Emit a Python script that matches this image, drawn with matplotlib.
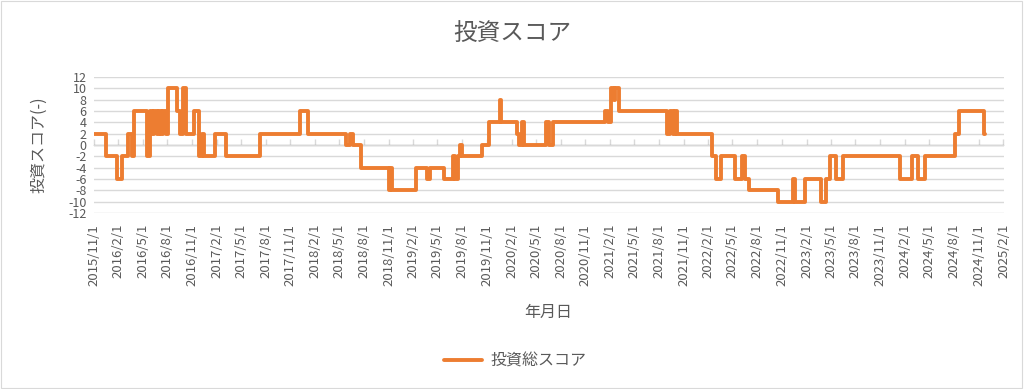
import matplotlib
matplotlib.use("Agg")
import matplotlib.pyplot as plt
import pandas as pd
from matplotlib.patches import Rectangle

plt.rcParams['font.family'] = ['Noto Sans CJK JP', 'DejaVu Sans']

# ---- data: change dates and score values (step series) ----
change_dates = [
    "2015-11-01", "2015-12-17", "2016-01-27", "2016-02-13", "2016-03-09",
    "2016-03-22", "2016-03-29", "2016-05-16", "2016-05-28", "2016-06-07",
    "2016-06-14", "2016-06-23", "2016-06-30", "2016-07-10", "2016-07-17",
    "2016-07-26", "2016-08-04", "2016-09-06", "2016-09-17", "2016-09-28",
    "2016-10-11", "2016-11-10", "2016-11-25", "2016-12-08", "2016-12-15",
    "2017-01-27", "2017-03-06", "2017-07-10", "2017-12-06", "2018-01-04",
    "2018-05-28", "2018-06-09", "2018-06-20", "2018-07-23", "2018-11-01",
    "2018-11-08", "2018-11-15", "2019-02-10", "2019-03-25", "2019-04-05",
    "2019-05-27", "2019-06-28", "2019-07-05", "2019-07-18", "2019-07-25",
    "2019-08-02", "2019-10-14", "2019-11-09", "2019-12-18", "2019-12-25",
    "2020-02-20", "2020-03-01", "2020-03-10", "2020-03-19", "2020-06-08",
    "2020-06-19", "2020-07-02", "2021-01-12", "2021-01-25", "2021-02-04",
    "2021-02-15", "2021-02-20", "2021-03-04", "2021-09-01", "2021-09-12",
    "2021-09-23", "2021-09-30", "2021-10-09", "2022-02-14", "2022-02-28",
    "2022-03-21", "2022-05-10", "2022-06-07", "2022-06-18", "2022-07-01",
    "2022-10-17", "2022-12-12", "2022-12-21", "2023-01-26", "2023-03-26",
    "2023-04-14", "2023-04-27", "2023-05-21", "2023-06-16", "2024-01-15",
    "2024-02-29", "2024-03-21", "2024-04-15", "2024-08-04", "2024-08-19",
    "2024-11-19", "2024-11-26",
]
scores = [
    2, -2, -6, -2, 2,
    -2, 6, -2, 6, 2,
    6, 2, 6, 2, 6,
    2, 10, 6, 2, 10,
    2, 6, -2, 2, -2,
    2, -2, 2, 6, 2,
    0, 2, 0, -4, -8,
    -4, -8, -4, -6, -4,
    -6, -2, -6, -2, 0,
    -2, 0, 4, 8, 4,
    2, 0, 4, 0, 4,
    0, 4, 6, 4, 10,
    8, 10, 6, 2, 6,
    2, 6, 2, -2, -6,
    -2, -6, -2, -6, -8,
    -10, -6, -10, -6, -10,
    -6, -2, -6, -2, -6,
    -2, -6, -2, 2, 6,
    2, 2,
]
series_name = "投資総スコア"
title = "投資スコア"
y_label = "投資スコア(-)"
x_label = "年月日"
y_ticks = [-12, -10, -8, -6, -4, -2, 0, 2, 4, 6, 8, 10, 12]
x_start, x_end = "2015-11-01", "2025-02-01"

dates = pd.to_datetime(change_dates)
tick_dates = pd.date_range(x_start, x_end, freq="3MS")
tick_labels = [f"{d.year}/{d.month}/{d.day}" for d in tick_dates]

gray = "#595959"
grid_c = "#d9d9d9"
orange = "#ED7D31"

fig = plt.figure(figsize=(10.24, 3.89), dpi=100)
fig.patches.append(Rectangle((0.001, 0.002), 0.997, 0.995, transform=fig.transFigure,
                             fill=False, edgecolor="#d9d9d9", linewidth=0.8))
ax = fig.add_axes([93.5 / 1024, 1 - 213 / 389, 910 / 1024, 136 / 389])

line, = ax.plot(dates, scores, drawstyle="steps-post", color=orange,
                linewidth=2.8, solid_joinstyle="round", solid_capstyle="round",
                label=series_name, zorder=3)

ax.set_xlim(pd.Timestamp(x_start), pd.Timestamp(x_end))
ax.set_ylim(-12, 12)
ax.set_yticks(y_ticks)
ax.set_yticklabels([str(v) for v in y_ticks], fontsize=9, color=gray)
ax.tick_params(axis="y", length=0, pad=5)
ax.yaxis.grid(True, color=grid_c, linewidth=1.0)
ax.set_axisbelow(True)

ax.set_xticks(tick_dates)
ax.set_xticklabels(tick_labels, rotation=90, fontsize=9.5, color=gray)
ax.tick_params(axis="x", length=0, pad=8)

for s in ax.spines.values():
    s.set_visible(False)

# tick marks on the zero line (axis crossing)
sec = ax.secondary_xaxis(0.5)
sec.set_xticks(tick_dates)
sec.set_xticklabels([])
sec.tick_params(axis="x", direction="out", length=4, color=grid_c, width=1)
sec.spines["bottom"].set_color(grid_c)
sec.spines["bottom"].set_linewidth(1.0)

ax.set_ylabel(y_label, fontsize=11.5, color=gray)
ax.yaxis.set_label_coords(-0.051, 0.5)
fig.text(0.535, 1 - 312 / 389, x_label, fontsize=11.5, color=gray, ha="center", va="center")
fig.text(0.5, 1 - 33 / 389, title, fontsize=17, color=gray, ha="center", va="center")

leg = fig.legend(handles=[line], loc="center", bbox_to_anchor=(0.503, 1 - 361 / 389),
                 frameon=False, fontsize=11.5, handlelength=2.4, handletextpad=0.5)
for t in leg.get_texts():
    t.set_color(gray)

fig.savefig("out.png", dpi=100)
